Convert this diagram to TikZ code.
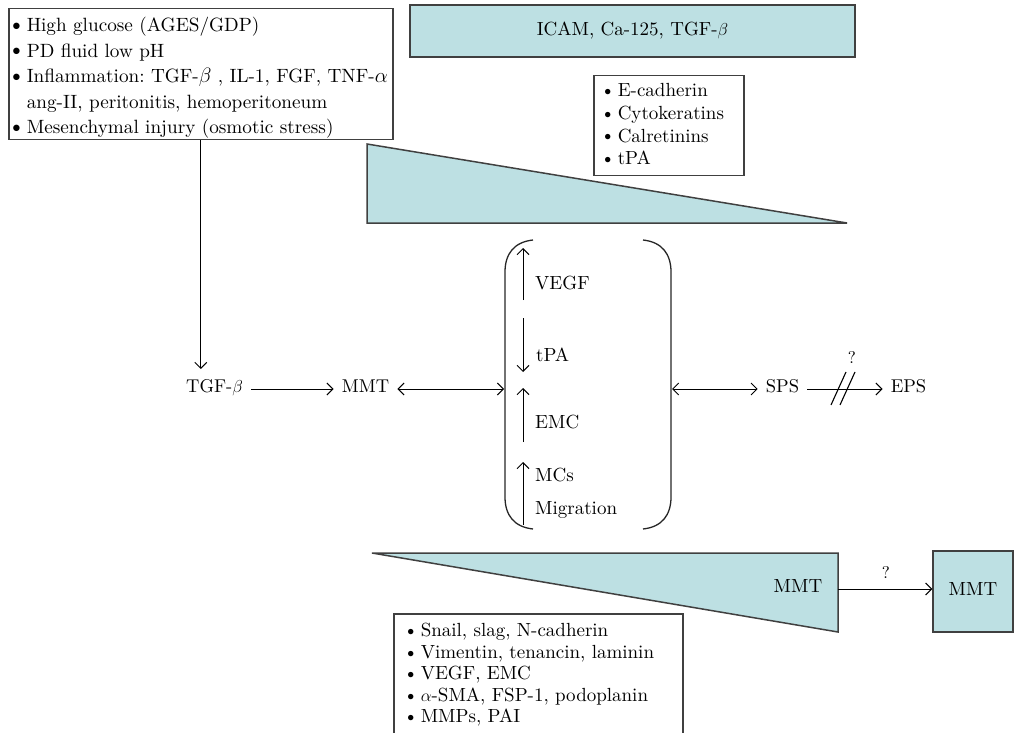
\documentclass[tikz,border=0pt]{standalone}
\usepackage{fontspec}
\setmainfont{lmroman10-regular.otf}[ItalicFont=lmroman10-italic.otf, BoldFont=lmroman10-bold.otf]
\usepackage{graphicx}
\usetikzlibrary{arrows.meta,calc}
\definecolor{tealfill}{HTML}{BDE0E3}
\definecolor{edgegray}{HTML}{404040}
\newcommand\mybul[1]{\makebox[#1][l]{\hspace{-0.5pt}\raisebox{0.06em}{\scalebox{0.8}{$\bullet$}}}}
\newcommand\bline[2]{\mbox{\mybul{#1}#2}}
\tikzset{
  arr/.style={-{Straight Barb[length=6pt,width=12pt]}, line width=1pt},
  darr/.style={{Straight Barb[length=6pt,width=12pt]}-{Straight Barb[length=6pt,width=12pt]}, line width=1pt},
  rowtxt/.style={inner xsep=8pt, inner ysep=0pt, font=\fontsize{18.5}{22}\selectfont, text height=12.6pt, text depth=5pt},
  inlbl/.style={inner sep=0pt, anchor=west, font=\fontsize{19}{22}\selectfont, text height=12.6pt, text depth=5pt},
  listbox/.style={draw=edgegray, line width=1.5pt, anchor=north west, align=left},
  tealbox/.style={draw=edgegray, fill=tealfill, line width=1.5pt},
  tealtri/.style={draw=edgegray, fill=tealfill, line width=1.5pt, line join=miter},
  brk/.style={line width=1.3pt, draw=black!85},
  qmark/.style={inner sep=0pt, font=\fontsize{17}{17}\selectfont},
}
\begin{document}
\frenchspacing
\begin{tikzpicture}[x=1pt,y=-1pt]
\useasboundingbox (0,0) rectangle (1018,733);

% top-left cause box
\node[listbox, inner xsep=4pt, inner ysep=8.5pt] (causes) at (8,8)
  {\parbox[t][114pt][t]{376pt}{\raggedright\frenchspacing\fontsize{19.2}{25.5}\selectfont
   \bline{14pt}{High glucose (AGES/GDP)}\\
   \bline{14pt}{PD fluid low pH}\\
   \bline{14pt}{Inflammation: TGF-$\beta$ , IL-1, FGF, TNF-$\alpha$}\\
   \mbox{\hspace*{14pt}ang-II, peritonitis, hemoperitoneum}\\
   \bline{14pt}{Mesenchymal injury (osmotic stress)}}};

% ICAM box
\node[tealbox, minimum width=445pt, minimum height=52pt, font=\fontsize{19}{22}\selectfont] (icam) at (632.5,31) {ICAM, Ca-125, TGF-$\beta$};

% epithelial markers box
\node[listbox, inner xsep=11pt, inner ysep=7.8pt] (epi) at (593,75)
  {\parbox[t][84.4pt][t]{128pt}{\raggedright\fontsize{19}{22.7}\selectfont
   \bline{13pt}{E-cadherin}\\
   \bline{13pt}{Cytokeratins}\\
   \bline{13pt}{Calretinins}\\
   \bline{13pt}{tPA}}};

% upper (decreasing) triangle
\filldraw[tealtri] (367,144) -- (847,223) -- (367,223) -- cycle;

% main row
\node[rowtxt] (tgf) at (214.5,389) {TGF-$\beta$};
\node[rowtxt] (mmt) at (365.5,389) {MMT};
\node[rowtxt] (sps) at (782.5,389) {SPS};
\node[rowtxt] (eps) at (908.5,389) {EPS};
\coordinate (bl) at (504,389);
\coordinate (br) at (672,389);

\draw[arr, shorten >=11pt] (causes.south) -- (causes.south |- tgf.north);
\draw[arr] (tgf) -- (mmt);
\draw[darr] (mmt) -- (bl);
\draw[darr] (br) -- (sps);
\draw[arr] (sps) -- (eps);
\draw[line width=1.1pt] (831,405) -- (846,372);
\draw[line width=1.1pt] (840,405) -- (855,372);
\node[qmark] (q1) at (852,358) {?};

% bracket
\draw[brk] (533,240) .. controls (514,242) and (505,254) .. (505,272) -- (505,497) .. controls (505,515) and (514,527) .. (533,529);
\draw[brk] (643,240) .. controls (662,242) and (671,254) .. (671,272) -- (671,497) .. controls (671,515) and (662,527) .. (643,529);

% bracket contents
\node[inlbl] (vegf) at (535,285.5) {VEGF};
\node[inlbl] (tpa) at (536,357.5) {tPA};
\node[inlbl] (emc) at (535,424.5) {EMC};
\node[inlbl] (mcs) at (535,477.5) {MCs};
\node[inlbl] (migr) at (535,510.5) {Migration};
\draw[arr] (523,300) -- (523,248);
\draw[arr] (523,318) -- (523,372);
\draw[arr] (523,442) -- (523,388);
\draw[arr] (523,525) -- (523,462);

% lower (increasing) triangle
\filldraw[tealtri] (372,553) -- (838,553) -- (838,632) -- cycle;
\node[rowtxt, font=\fontsize{19}{22}\selectfont] (mmtl) at (798,588.5) {MMT};
\coordinate (trir) at (838,589);

% right MMT box
\node[tealbox, minimum width=80pt, minimum height=81pt, font=\fontsize{19}{22}\selectfont] (mmtr) at (973,591.5) {\raisebox{4pt}{MMT}};
\draw[arr] (trir) -- (trir -| mmtr.west);
\node[qmark] (q2) at (886,573) {?};

% mesenchymal markers box
\node[listbox, inner xsep=14pt, inner ysep=9.8pt] (mes) at (393,613)
  {\parbox[t][140pt][t]{261pt}{\raggedright\fontsize{19}{21.5}\selectfont
   \bline{13pt}{Snail, slag, N-cadherin}\\
   \bline{13pt}{Vimentin, tenancin, laminin}\\
   \bline{13pt}{VEGF, EMC}\\
   \bline{13pt}{$\alpha$-SMA, FSP-1, podoplanin}\\
   \bline{13pt}{MMPs, PAI}}};
\end{tikzpicture}
\end{document}
